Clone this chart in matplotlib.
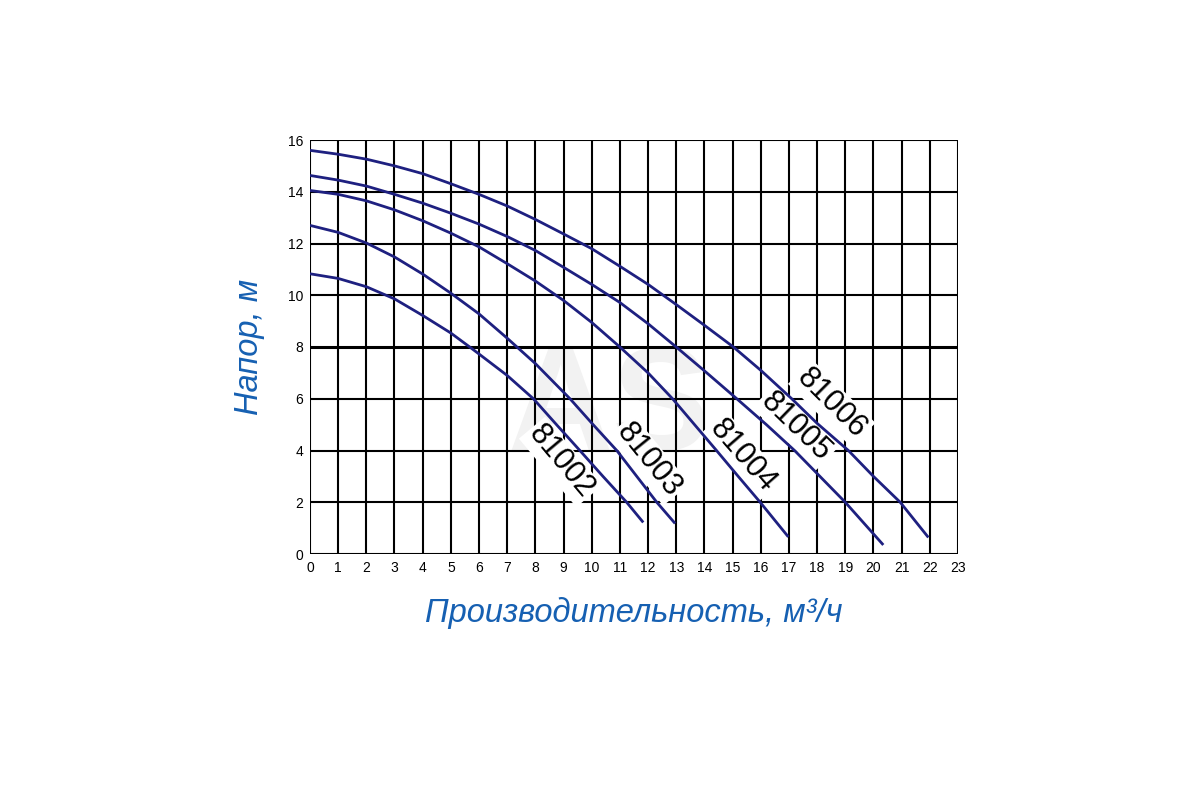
import numpy as np
import matplotlib
matplotlib.use('Agg')
from matplotlib import pyplot as plt

# pump curves: flow (m3/h) -> head (m)
q_81002 = [0, 1, 2, 3, 4, 5, 5.67, 6, 7, 7.93, 8.75, 9.58, 10.4, 11.24, 11.83]
h_81002 = [10.83, 10.65, 10.33, 9.86, 9.22, 8.54, 8.0, 7.73, 6.9, 6.0, 5.0, 4.0, 3.0, 2.0, 1.22]

q_81003 = [0, 1, 2, 3, 4, 5, 6, 7, 8, 9.23, 10.05, 10.89, 11.6, 12.31, 12.96]
h_81003 = [12.7, 12.43, 12.02, 11.48, 10.82, 10.08, 9.28, 8.34, 7.36, 6.0, 5.0, 4.0, 3.0, 2.0, 1.18]

q_81004 = [0, 1, 2, 3, 4, 5, 6, 7, 8, 9, 10, 11, 12, 12.87, 13.65, 14.43, 15.2, 15.98, 16.98]
h_81004 = [14.05, 13.9, 13.65, 13.3, 12.88, 12.4, 11.87, 11.22, 10.55, 9.8, 8.95, 8.0, 7.0,
           6.0, 5.0, 4.0, 3.0, 2.0, 0.66]

q_81005 = [0, 1, 2, 3, 4, 5, 6, 7, 8, 9, 10, 11, 12, 13, 14, 15.15, 16.2, 17.2, 18.1, 19.0, 20.35]
h_81005 = [14.63, 14.45, 14.22, 13.9, 13.56, 13.17, 12.75, 12.27, 11.73, 11.08, 10.42, 9.72,
           8.9, 8.0, 7.08, 6.0, 5.0, 4.0, 3.0, 2.0, 0.35]

q_81006 = [0, 1, 2, 3, 4, 5, 6, 7, 8, 9, 10, 11, 12, 13, 14, 15.03, 16, 17.1, 18, 19.11,
           20, 20.95, 21.95]
h_81006 = [15.6, 15.45, 15.26, 15.0, 14.7, 14.31, 13.9, 13.45, 12.93, 12.37, 11.8, 11.12,
           10.42, 9.64, 8.84, 8.0, 7.1, 6.0, 5.05, 4.0, 3.0, 2.0, 0.64]

names = ['81002', '81003', '81004', '81005', '81006']
label_q = [8.9, 12.01, 15.36, 17.25, 18.52]
label_h = [3.56, 3.63, 3.78, 4.92, 5.82]
label_rot = [-50, -51, -49, -44, -45]

x_ticks = list(range(0, 24))
y_ticks = list(range(0, 17, 2))

line_col = '#1e2080'
blue = '#1660b2'

def main():
    fig = plt.figure(figsize=(12, 8), dpi=100)
    ax = fig.add_axes([0.2583, 0.3075, 0.54, 0.5175])
    ax.set_xlim(0, 23)
    ax.set_ylim(0, 16)

    # grid
    for x in x_ticks:
        ax.axvline(x, color='k', lw=1.5, zorder=1)
    for y in y_ticks:
        ax.axhline(y, color='k', lw=2.2 if y == 8 else 1.5, zorder=1)

    # faint watermark
    ax.text(10.6, 5.5, 'AS', fontsize=105, fontweight='bold', color='#f2f2f2',
            ha='center', va='center', family='Liberation Sans', zorder=0.5)

    curves = [(q_81002, h_81002), (q_81003, h_81003), (q_81004, h_81004),
              (q_81005, h_81005), (q_81006, h_81006)]
    for q, h in curves:
        ax.plot(q, h, color=line_col, lw=2.0, zorder=3, solid_capstyle='butt')

    for n, x, y, r in zip(names, label_q, label_h, label_rot):
        ax.text(x, y, n, rotation=r, rotation_mode='anchor', ha='center', va='center',
                fontsize=22, family='Liberation Sans', color='k', zorder=2,
                bbox=dict(facecolor='white', edgecolor='none', pad=1.5))

    for s in ax.spines.values():
        s.set_visible(False)
    ax.set_xticks(x_ticks)
    ax.set_yticks(y_ticks)
    ax.tick_params(length=0, labelsize=10, pad=5)
    for lab in ax.get_xticklabels() + ax.get_yticklabels():
        lab.set_family('Liberation Sans')

    ax.set_xlabel('Производительность, м³/ч', fontsize=23.5, color=blue,
                  style='italic', family='Liberation Sans', labelpad=16)
    ax.set_ylabel('Напор, м', fontsize=23.5, color=blue, style='italic',
                  family='Liberation Sans', labelpad=16)

    fig.savefig('out.png', dpi=100)

main()
